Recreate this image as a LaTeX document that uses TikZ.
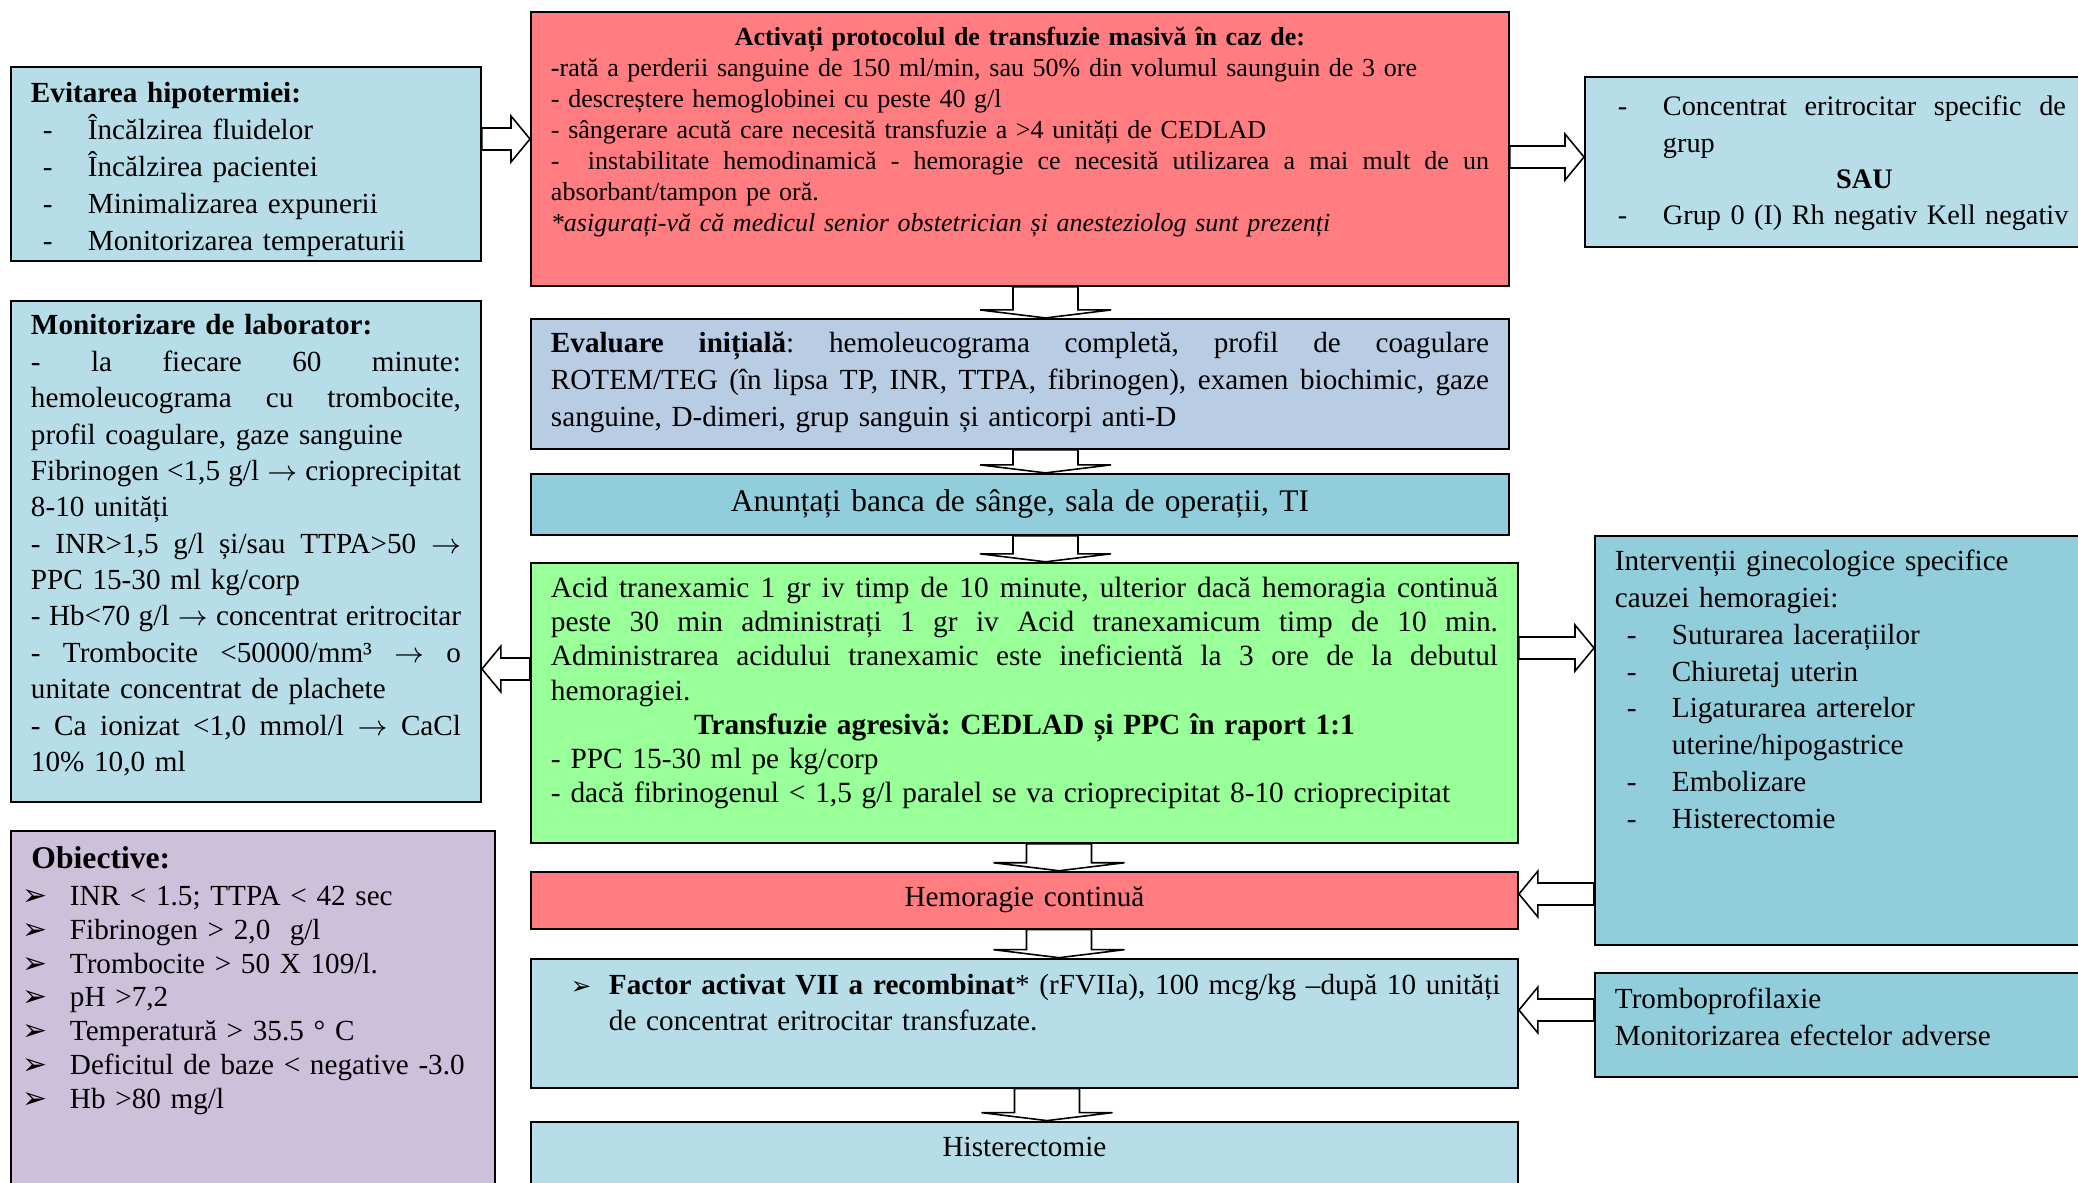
\documentclass[tikz,border=0pt]{standalone}
\usepackage{fontspec}
\setmainfont{Liberation Serif}
\newfontfamily\symbfont{DejaVu Sans}
\usetikzlibrary{calc,positioning}
\frenchspacing
\definecolor{PaleAqua}{HTML}{B7DDE8}
\definecolor{Salmon}{HTML}{FF7C80}
\definecolor{PaleSteel}{HTML}{B8CCE4}
\definecolor{Aqua}{HTML}{92CDDC}
\definecolor{Mint}{HTML}{99FF99}
\definecolor{Lilac}{HTML}{CCC0DA}

% justified line, list items
\newcommand{\jl}[2][\linewidth]{\makebox[#1][s]{\spaceskip=0.25em plus 1fil minus 0.06em\xspaceskip=\spaceskip #2}}
\newcommand{\dashitem}[1]{\hspace*{0.12cm}\makebox[0.45cm][l]{-}#1}
\newcommand{\objitem}[1]{\makebox[0.47cm][l]{\symbfont\fontsize{8.5}{8.5}\selectfont ➢}#1}
\newcommand{\toarrow}{$\rightarrow$}
% outlined block arrow: start, tip, shaft half width, head half width, head length
\newcommand{\blockarrow}[5]{%
  \draw[flow] let \p1=($(#2)!#5!(#1)$) in
    ($(#1)!#3!90:(#2)$) -- ($(\p1)!#3!90:(#2)$) -- ($(\p1)!#4!90:(#2)$) -- (#2)
    -- ($(\p1)!#4!-90:(#2)$) -- ($(\p1)!#3!-90:(#2)$) -- ($(#1)!#3!-90:(#2)$) -- cycle;}
\newcommand{\flowdown}[2]{\blockarrow{#1}{#2}{0.325cm}{0.655cm}{0.08cm}}
\newcommand{\flowside}[2]{\blockarrow{#1}{#2}{0.11cm}{0.23cm}{0.19cm}}

\begin{document}
\begin{tikzpicture}[
  box/.style={draw=black,line width=0.55pt,inner ysep=0pt,inner xsep=0.2cm,align=left,anchor=north west},
  flow/.style={draw=black,line width=0.45pt,fill=white},
  body/.style={font=\fontsize{8.3pt}{10.5pt}\selectfont}
]
  \useasboundingbox (0,0) rectangle (20.78,-11.82);

  % left column
  \node[box,body,fill=PaleAqua,text width=4.30cm,text height=0.36cm,text depth=1.58cm] (hypo) at (0.10,-0.66)
    {\textbf{Evitarea hipotermiei:}\\
     \dashitem{Încălzirea fluidelor}\\
     \dashitem{Încălzirea pacientei}\\
     \dashitem{Minimalizarea expunerii}\\
     \dashitem{Monitorizarea temperaturii}};
  \node[box,font=\fontsize{8.3pt}{10.35pt}\selectfont,fill=PaleAqua,text width=4.30cm,text height=0.34cm,text depth=4.67cm,
        below=0.38cm of hypo.south west,anchor=north west] (lab)
    {\textbf{Monitorizare de laborator:}\\
     \jl{- la fiecare 60 minute:}\\
     \jl{hemoleucograma cu trombocite,}\\
     profil coagulare, gaze sanguine\\
     \jl{Fibrinogen <1,5 g/l \toarrow{} crioprecipitat}\\
     8-10 unități\\
     \jl{- INR>1,5 g/l și/sau TTPA>50 \toarrow}\\
     PPC 15-30 ml kg/corp\\
     \jl{- Hb<70 g/l \toarrow{} concentrat eritrocitar}\\
     \jl{- Trombocite <50000/mm³ \toarrow{} o}\\
     unitate concentrat de plachete\\
     \jl{- Ca ionizat <1,0 mmol/l \toarrow{} CaCl}\\
     10\% 10,0 ml};
  \node[box,font=\fontsize{8.3pt}{9.6pt}\selectfont,fill=Lilac,inner xsep=0.12cm,text width=4.60cm,text height=0.38cm,text depth=3.60cm,
        below=0.27cm of lab.south west,anchor=north west] (goal)
    {\hspace*{0.085cm}{\fontsize{9pt}{9pt}\selectfont\textbf{Obiective:}}\\[0.9pt]
     \objitem{INR < 1.5; TTPA < 42 sec}\\
     \objitem{Fibrinogen > 2,0\ \ g/l}\\
     \objitem{Trombocite > 50 X 109/l.}\\
     \objitem{pH >7,2}\\
     \objitem{Temperatură > 35.5 ° C}\\
     \objitem{Deficitul de baze < negative -3.0}\\
     \objitem{Hb >80 mg/l}};

  % middle column
  \node[box,font=\fontsize{7.4pt}{8.8pt}\selectfont,fill=Salmon,text width=9.38cm,text height=0.34cm,text depth=2.40cm] (mass) at (5.30,-0.11)
    {\makebox[\linewidth]{\textbf{Activați protocolul de transfuzie masivă în caz de:}}\\
     \textbf{-}rată a perderii sanguine de 150 ml/min, sau 50\% din volumul saunguin de 3 ore\\
     - descreștere hemoglobinei cu peste 40 g/l\\
     - sângerare acută care necesită transfuzie a >4 unități de CEDLAD\\
     \jl{- \ instabilitate hemodinamică - hemoragie ce necesită utilizarea a mai mult de un}\\
     absorbant/tampon pe oră.\\
     \textit{*asigurați-vă că medicul senior obstetrician și anesteziolog sunt prezenți}};
  \node[box,font=\fontsize{8.3pt}{10.55pt}\selectfont,fill=PaleSteel,text width=9.38cm,text height=0.335cm,text depth=0.965cm,
        below=0.31cm of mass.south west,anchor=north west] (eval)
    {\jl{\textbf{Evaluare inițială}: hemoleucograma completă, profil de coagulare}\\
     \jl{ROTEM/TEG (în lipsa TP, INR, TTPA, fibrinogen), examen biochimic, gaze}\\
     sanguine, D-dimeri, grup sanguin și anticorpi anti-D};
  \node[box,font=\fontsize{8.95pt}{10.9pt}\selectfont,fill=Aqua,align=center,text width=9.38cm,text height=0.38cm,text depth=0.23cm,
        below=0.23cm of eval.south west,anchor=north west] (bank)
    {Anunțați banca de sânge, sala de operații, TI};
  \node[box,font=\fontsize{8.35pt}{9.7pt}\selectfont,fill=Mint,text width=9.47cm,text height=0.35cm,text depth=2.45cm,
        below=0.26cm of bank.south west,anchor=north west] (tranex)
    {\jl{Acid tranexamic 1 gr iv timp de 10 minute, ulterior dacă hemoragia continuă}\\
     \jl{peste 30 min administrați 1 gr iv Acid tranexamicum timp de 10 min.}\\
     \jl{Administrarea acidului tranexamic este ineficientă la 3 ore de la debutul}\\
     hemoragiei.\\
     \makebox[\linewidth]{\textbf{Transfuzie agresivă: CEDLAD și PPC în raport 1:1}}\\
     - PPC 15-30 ml pe kg/corp\\
     - dacă fibrinogenul < 1,5 g/l paralel se va crioprecipitat 8-10 crioprecipitat};
  \node[box,body,fill=Salmon,align=center,text width=9.47cm,text height=0.35cm,text depth=0.22cm,
        below=0.27cm of tranex.south west,anchor=north west] (bleed) {Hemoragie continuă};
  \node[box,font=\fontsize{8.3pt}{10.2pt}\selectfont,fill=PaleAqua,text width=9.47cm,text height=0.36cm,text depth=0.93cm,
        below=0.28cm of bleed.south west,anchor=north west] (rfvii)
    {\hspace*{0.2cm}\makebox[0.38cm][l]{\symbfont\fontsize{7pt}{7pt}\selectfont ➢}\mbox{\textbf{Factor activat VII a recombinat}* (rFVIIa), 100 mcg/kg --după 10 unități}\\
     \hspace*{0.58cm}de concentrat eritrocitar transfuzate.};
  \node[box,body,fill=PaleAqua,align=center,text width=9.47cm,text height=0.35cm,text depth=0.60cm,
        below=0.32cm of rfvii.south west,anchor=north west] (hyst) {Histerectomie};

  % right column
  \node[box,font=\fontsize{8.05pt}{10.3pt}\selectfont,fill=PaleAqua,inner xsep=0.21cm,text width=4.60cm,text height=0.39cm,text depth=1.31cm] (group) at (15.84,-0.76)
    {\dashitem{\jl[4.03cm]{Concentrat eritrocitar specific de}}\\
     \hspace*{0.57cm}grup\\
     \hspace*{0.57cm}\makebox[4.03cm]{\textbf{SAU}}\\
     \dashitem{\mbox{Grup 0 (I) Rh negativ Kell negativ}}};
  \node[box,font=\fontsize{8.3pt}{10.45pt}\selectfont,fill=Aqua,text width=4.60cm,text height=0.35cm,text depth=3.74cm] (gyn) at (15.94,-5.35)
    {Intervenții ginecologice specifice\\
     cauzei hemoragiei:\\
     \dashitem{Suturarea lacerațiilor}\\
     \dashitem{Chiuretaj uterin}\\
     \dashitem{Ligaturarea arterelor}\\
     \hspace*{0.57cm}uterine/hipogastrice\\
     \dashitem{Embolizare}\\
     \dashitem{Histerectomie}};
  \node[box,body,fill=Aqua,text width=4.60cm,text height=0.36cm,text depth=0.68cm,
        below=0.26cm of gyn.south west,anchor=north west] (trombo)
    {Tromboprofilaxie\\
     Monitorizarea efectelor adverse};

  % arrow axes and rows
  \coordinate (upaxis) at (10.455,0);
  \coordinate (lowaxis) at (10.59,0);
  \coordinate (endaxis) at (10.47,0);
  \coordinate (rowhypo) at (0,-1.39);
  \coordinate (rowgroup) at (0,-1.57);
  \coordinate (rowgyn) at (0,-6.48);
  \coordinate (rowlab) at (0,-6.69);
  \coordinate (rowbleed) at (0,-8.94);
  \coordinate (rowtrombo) at (0,-10.10);

  \flowdown{mass.south -| upaxis}{eval.north -| upaxis}
  \flowdown{eval.south -| upaxis}{bank.north -| upaxis}
  \flowdown{bank.south -| upaxis}{tranex.north -| upaxis}
  \flowdown{tranex.south -| lowaxis}{bleed.north -| lowaxis}
  \flowdown{bleed.south -| lowaxis}{rfvii.north -| lowaxis}
  \flowdown{rfvii.south -| endaxis}{hyst.north -| endaxis}

  \flowside{hypo.east |- rowhypo}{mass.west |- rowhypo}
  \flowside{mass.east |- rowgroup}{group.west |- rowgroup}
  \flowside{tranex.east |- rowgyn}{gyn.west |- rowgyn}
  \flowside{tranex.west |- rowlab}{lab.east |- rowlab}
  \flowside{gyn.west |- rowbleed}{bleed.east |- rowbleed}
  \flowside{trombo.west |- rowtrombo}{rfvii.east |- rowtrombo}
\end{tikzpicture}
\end{document}
